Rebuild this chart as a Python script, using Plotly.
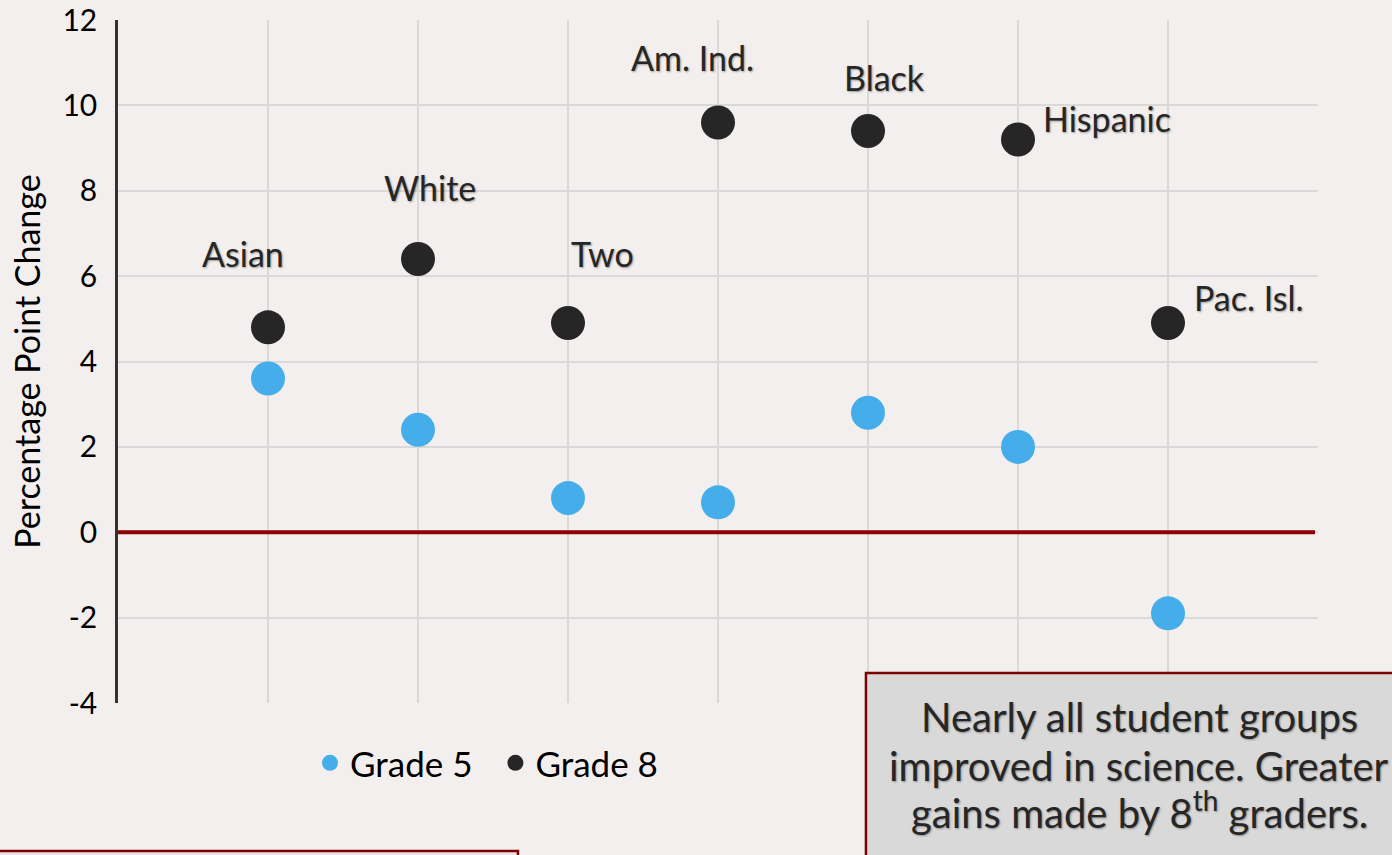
import plotly.graph_objects as go

groups = ["Asian", "White", "Two", "Am. Ind.", "Black", "Hispanic", "Pac. Isl."]
group_pos = [1, 2, 3, 4, 5, 6, 7]
grade5 = [3.6, 2.4, 0.8, 0.7, 2.8, 2.0, -1.9]
grade8 = [4.8, 6.4, 4.9, 9.6, 9.4, 9.2, 4.9]
y_ticks = [-4, -2, 0, 2, 4, 6, 8, 10, 12]
y_tick_text = ["-4", "-2", "0", "2", "4", "6", "8", "10", "12"]
callout_lines = ["Nearly all student groups", "improved in science. Greater",
                 "gains made by 8<sup>th</sup> graders."]

# label offsets (in axis units) relative to the Grade 8 point
label_dx = [-0.17, 0.08, 0.23, -0.17, 0.11, 0.59, 0.54]
label_dy = [1.73, 1.68, 1.63, 1.52, 1.26, 0.50, 0.60]

FONT = "Lato, Carlito, Calibri, sans-serif"
BG = "#F2EFEE"
SHADOW = "1px 1px 2px rgba(0,0,0,0.35)"

fig = go.Figure()
fig.add_trace(go.Scatter(x=group_pos, y=grade5, mode="markers", name="Grade 5\u00a0\u00a0",
                         marker=dict(color="#45AEEA", size=34)))
fig.add_trace(go.Scatter(x=group_pos, y=grade8, mode="markers", name="Grade 8",
                         marker=dict(color="#262626", size=34)))

# zero line
fig.add_shape(type="line", xref="x", yref="y", x0=0, x1=7.98, y0=0, y1=0,
              line=dict(color="#8B0000", width=4), layer="between")

for g, x, y, dx, dy in zip(groups, group_pos, grade8, label_dx, label_dy):
    fig.add_annotation(x=x + dx, y=y + dy, text=g, showarrow=False,
                       font=dict(family=FONT, size=34, color="#262626", shadow=SHADOW),
                       xanchor="center", yanchor="middle")

# callout box (bottom right)
fig.add_shape(type="rect", xref="paper", yref="paper",
              x0=0.6233, x1=1.07, y0=0.0439, y1=-0.26,
              fillcolor="#D9D9D9", line=dict(color="#7B0000", width=2.5))
callout_y = [-0.0200, -0.0925, -0.1560]
for line, yy in zip(callout_lines, callout_y):
    fig.add_annotation(xref="paper", yref="paper", x=0.851, y=yy, text=line,
                       showarrow=False, align="center", xanchor="center", yanchor="middle",
                       font=dict(family=FONT, size=40, color="#262626", shadow=SHADOW))

# partial box (bottom left)
fig.add_shape(type="rect", xref="paper", yref="paper",
              x0=-0.11, x1=0.3333, y0=-0.2167, y1=-0.30,
              fillcolor="#E6E3E3", line=dict(color="#7B0000", width=2.5))

fig.update_layout(
    width=1392, height=855,
    paper_bgcolor=BG, plot_bgcolor=BG,
    margin=dict(l=118, r=74, t=20, b=152, autoexpand=False),
    font=dict(family=FONT, color="#000000"),
    showlegend=True,
    legend=dict(orientation="h", x=0.16, y=-0.088, xanchor="left", yanchor="middle",
                font=dict(family=FONT, size=35, color="#000000"),
                bgcolor="rgba(0,0,0,0)", itemsizing="trace", itemwidth=30),
    xaxis=dict(range=[0, 8], tickvals=[0, 1, 2, 3, 4, 5, 6, 7, 8], showticklabels=False,
               showgrid=True, gridcolor="#D9D9D9", gridwidth=1.5, zeroline=False,
               showline=False, fixedrange=True, automargin=False),
    yaxis=dict(range=[-4, 12], tickvals=y_ticks, ticktext=y_tick_text, showgrid=True,
               gridcolor="#D9D9D9", automargin=False,
               gridwidth=1.5, zeroline=False, showline=True, linecolor="#333333",
               linewidth=2.5, ticks="", tickfont=dict(family=FONT, size=30, color="#000000"),
               ticklabelstandoff=12,
               title=dict(text="Percentage Point Change", standoff=12,
                          font=dict(family=FONT, size=34, color="#000000"))),
)

fig.write_html("out.html", config={"displayModeBar": False},
               post_script="document.body.style.margin='0';")
